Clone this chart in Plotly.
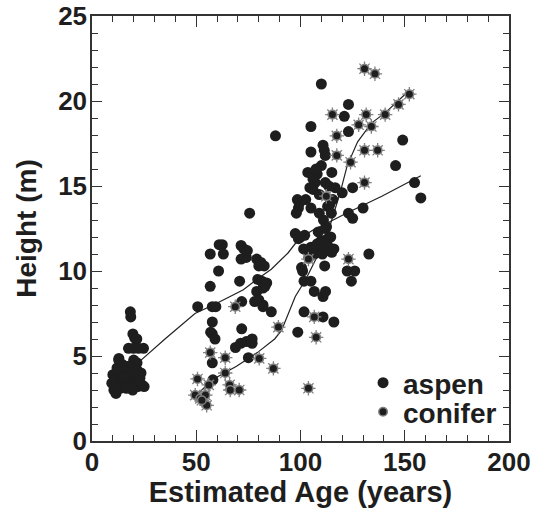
import plotly.graph_objects as go

# ---------------- data ----------------
aspen_age = [
    # young cluster
    18.4, 18.6, 19.6, 20.5, 21.5, 17.5, 19.9, 22.3, 24.7, 12.8, 20.0, 21.6,
    10.0, 11.0, 12.0, 10.5, 11.5, 13.0, 14.0, 15.0, 13.5, 16.0, 17.0, 18.0,
    19.0, 20.0, 21.0, 22.0, 23.0, 24.0, 25.0, 19.5, 16.5, 12.0, 14.5, 17.5,
    21.5, 23.5, 9.5, 12.9, 15.5, 22.5,
    # middle cluster
    50.7, 56.7, 61.0, 62.5, 63.0, 60.7, 56.7, 57.7, 59.4, 57.7, 56.9, 57.7,
    59.0, 57.7, 58.0, 75.6, 71.5, 72.8, 74.5, 74.0, 71.5, 70.8, 71.8, 71.8,
    68.8, 71.3, 74.0, 76.8, 76.8, 75.0, 79.0, 81.0, 80.0, 82.6, 79.5, 81.5,
    83.0, 83.8, 79.0, 78.0, 80.0, 82.0, 82.0, 86.0, 82.0, 88.0,
    # older cluster
    110.0, 105.0, 105.0, 110.8, 111.4, 111.9, 110.0, 106.0, 108.0, 106.0,
    107.0, 115.0, 111.9, 113.5, 104.5, 106.0, 109.0, 116.6, 120.0, 115.5,
    114.0, 113.0, 114.8, 98.5, 99.5, 99.0, 98.0, 102.5, 105.0, 109.0, 111.0,
    112.5, 123.0, 125.0, 125.0, 130.0, 123.0, 123.0, 121.0, 145.6, 149.0,
    154.7, 157.7, 132.8, 122.4, 126.0, 124.4, 97.5, 100.0, 102.0, 99.0,
    101.5, 103.0, 105.0, 107.0, 109.0, 111.0, 113.0, 115.0, 116.0, 108.0,
    110.0, 113.0, 100.5, 101.0, 101.7, 105.0, 106.6, 110.8, 112.0, 111.6,
    113.0, 101.7, 110.8, 116.0, 98.7, 106.6, 113.0, 104.0, 108.5, 112.0,
    103.5, 107.5, 110.5, 114.5,
]
aspen_height = [
    7.6, 7.3, 6.3, 6.05, 6.0, 5.45, 5.45, 5.45, 5.45, 4.76, 4.76, 4.6,
    3.9, 3.6, 3.3, 3.0, 2.8, 4.1, 3.7, 3.4, 3.1, 4.0, 3.6, 3.3,
    4.3, 3.9, 3.5, 3.2, 3.7, 3.3, 3.2, 3.0, 3.1, 4.3, 4.5, 4.4,
    4.2, 4.0, 3.4, 4.86, 3.8, 3.6,
    7.9, 11.0, 11.55, 11.55, 11.0, 10.0, 9.1, 7.9, 7.9, 7.0, 6.4, 6.3,
    6.0, 4.6, 3.6, 13.4, 11.5, 11.3, 11.2, 10.8, 10.7, 9.4, 8.2, 6.6,
    5.5, 5.75, 5.85, 6.0, 5.75, 4.9, 10.7, 10.5, 10.3, 10.3, 9.5, 9.4,
    9.1, 9.3, 8.8, 8.2, 8.3, 8.0, 7.9, 7.6, 9.0, 17.95,
    21.0, 18.5, 17.0, 17.4, 17.1, 16.8, 16.2, 15.8, 15.7, 15.4,
    15.2, 15.8, 15.2, 15.0, 14.9, 14.8, 14.5, 14.9, 14.6, 14.2,
    13.9, 13.8, 13.4, 14.2, 14.0, 13.7, 13.4, 14.2, 13.7, 13.4, 13.0,
    12.6, 13.4, 13.1, 14.9, 13.7, 18.2, 19.8, 19.1, 16.2, 17.7,
    15.2, 14.3, 11.0, 10.0, 10.0, 9.4, 12.2, 12.0, 12.1, 11.9,
    11.3, 11.2, 11.4, 11.3, 11.1, 11.3, 11.2, 11.1, 11.3, 11.6,
    11.8, 11.9, 10.2, 10.0, 9.4, 9.4, 8.8, 8.5, 8.8, 10.3,
    11.3, 7.6, 7.3, 7.0, 6.4, 11.0, 11.5, 10.8, 12.3, 12.5,
    15.8, 16.0, 11.0, 12.0,
]

conifer_age = [
    130.7, 135.7, 152.2, 147.0, 140.6, 115.3, 131.5, 134.0, 127.9, 117.4,
    124.0, 117.4, 130.7, 137.0, 130.7, 123.0, 106.6, 107.5, 103.8, 87.0,
    89.4, 80.2, 68.7, 63.9, 63.9, 66.0, 66.3, 70.6, 56.7, 56.0, 50.6,
    49.5, 51.9, 54.4, 55.0, 52.7, 103.8, 112.4,
]
conifer_height = [
    21.9, 21.6, 20.4, 19.8, 19.2, 19.2, 19.2, 18.5, 18.6, 17.95,
    16.4, 16.8, 17.1, 17.1, 15.2, 10.7, 7.3, 6.1, 3.1, 4.27,
    6.7, 4.86, 7.9, 4.9, 4.0, 3.3, 3.0, 3.0, 5.2, 3.3, 3.65,
    2.7, 2.5, 2.7, 2.1, 2.4, 10.7, 14.4,
]

# smoothed fits
aspen_fit_age = [23, 35, 49.4, 59.4, 72.6, 79, 86, 94, 99, 105.8, 115.7, 122, 139, 157.7]
aspen_fit_height = [4.7, 6.0, 7.5, 8.07, 8.9, 9.5, 10.1, 11.06, 11.85, 12.4, 13.0, 13.4, 14.4, 15.6]

conifer_fit_age = [51, 57.7, 69.3, 79.3, 87.6, 90.9, 97.5, 102.5, 109, 114, 119, 122.4, 127.4, 134, 140.6, 147, 152]
conifer_fit_height = [2.8, 3.6, 4.4, 5.2, 6.0, 6.5, 8.5, 9.5, 11.1, 12.6, 14.6, 16.2, 17.6, 18.7, 19.3, 20.0, 20.6]

x_ticks = [0, 50, 100, 150, 200]
y_ticks = [0, 5, 10, 15, 20, 25]

# ---------------- figure ----------------
FONT = "Liberation Sans, Arial, sans-serif"
INK = "#1e1e1e"
HALO = "#808080"

fig = go.Figure()

fig.add_trace(go.Scatter(
    x=aspen_fit_age, y=aspen_fit_height, mode="lines",
    line=dict(color="#222", width=1.2), showlegend=False, hoverinfo="skip"))
fig.add_trace(go.Scatter(
    x=conifer_fit_age, y=conifer_fit_height, mode="lines",
    line=dict(color="#222", width=1.2), showlegend=False, hoverinfo="skip"))

fig.add_trace(go.Scatter(
    x=aspen_age, y=aspen_height, mode="markers", name="aspen",
    marker=dict(symbol="circle", size=11, color=INK, line=dict(width=0)),
    legend="legend"))

# conifer starburst: gray spikes behind a dark core
fig.add_trace(go.Scatter(
    x=conifer_age, y=conifer_height, mode="markers", name="conifer_halo",
    marker=dict(symbol="asterisk-open", size=12, color=HALO, line=dict(width=1.3, color=HALO)),
    showlegend=False))
fig.add_trace(go.Scatter(
    x=conifer_age, y=conifer_height, mode="markers", name="conifer",
    marker=dict(symbol="circle", size=8.5, color=INK, line=dict(width=1.5, color=HALO)),
    legend="legend2"))

axis_common = dict(
    showline=True, linecolor="#333", linewidth=1.5, mirror="ticks",
    ticks="inside", tickcolor="#333", tickwidth=1.3,
    showgrid=False, zeroline=False,
    tickfont=dict(family=FONT, size=26, color=INK, weight="bold"),
)

fig.update_xaxes(
    range=[0, 200], tickvals=x_ticks, ticklen=11,
    minor=dict(dtick=10, ticks="inside", ticklen=6, tickcolor="#333", tickwidth=1.1),
    ticklabelstandoff=-3,
    title=dict(text="Estimated Age (years)", standoff=17,
               font=dict(family=FONT, size=29, color=INK, weight="bold")),
    **axis_common)
fig.update_yaxes(
    range=[0, 25], tickvals=y_ticks, ticklen=10,
    minor=dict(dtick=1, ticks="inside", ticklen=6, tickcolor="#333", tickwidth=1.1),
    ticklabelstandoff=-2,
    title=dict(text="Height (m)", standoff=13,
               font=dict(family=FONT, size=28, color=INK, weight="bold")),
    **axis_common)

legend_font = dict(family=FONT, size=28, color=INK, weight="bold")
fig.update_layout(
    width=546, height=508,
    margin=dict(l=92, r=37, t=16, b=67, autoexpand=False),
    paper_bgcolor="white", plot_bgcolor="white",
    showlegend=True,
    legend=dict(x=0.650, y=0.1365, xanchor="left", yanchor="middle",
                bgcolor="rgba(0,0,0,0)", borderwidth=0, font=legend_font),
    legend2=dict(x=0.650, y=0.068, xanchor="left", yanchor="middle",
                 bgcolor="rgba(0,0,0,0)", borderwidth=0, font=legend_font),
)

fig.write_html("out.html", config={"displayModeBar": False},
               post_script="document.body.style.margin='0';")
